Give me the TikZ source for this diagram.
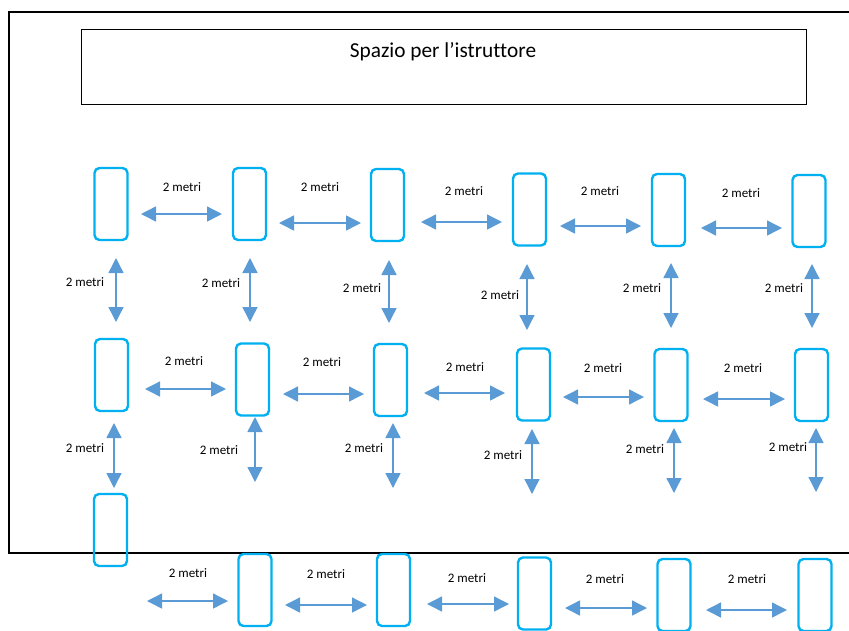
\documentclass[tikz,border=0pt]{standalone}
\usepackage{fontspec}
\setmainfont[Ligatures=NoCommon]{Carlito}
\usetikzlibrary{arrows.meta}
\definecolor{deskc}{HTML}{00B0F0}
\definecolor{arrc}{HTML}{5B9BD5}
\tikzset{
  desk/.style={draw=deskc, line width=2.4pt, rounded corners=5pt, minimum width=33pt, minimum height=72pt, inner sep=0pt},
  arr/.style={draw=arrc, line width=1.4pt, {Triangle[length=15pt,width=15pt]}-{Triangle[length=15pt,width=15pt]}},
  lab/.style={font=\fontsize{13}{15}\selectfont, inner sep=0pt}
}
\begin{document}
\begin{tikzpicture}[x=1pt,y=-1pt]
\useasboundingbox (0,0) rectangle (849,630);
% outer room frame
\draw[line width=2.5pt] (880,12) -- (9,12) -- (9,553) -- (880,553);
% instructor box
\node[draw, line width=1pt, minimum width=725pt, minimum height=75pt, inner sep=0pt] (istr) at (443.5,66.5) {};
\node[font=\fontsize{21.3}{25}\selectfont] (istrt) at (443,52) {Spazio per l’istruttore};
% desks
\foreach \n/\x/\y in {a1/111/204, a2/249.5/204, a3/387.5/205, a4/529.5/209.5, a5/668.5/210, a6/809/211,
  b1/111.5/375, b2/252.5/379.5, b3/390.5/380, b4/533.5/384.5, b5/671/385, b6/811.5/385,
  c1/110.5/530, c2/255/590, c3/393.5/590, c4/534.5/593.5, c5/674/595, c6/815/595}
  \node[desk] (\n) at (\x,\y) {};
% horizontal arrows
\foreach \n/\xa/\xb/\y/\lx/\ly in {
  ha1/141/222/214/182/187, ha2/279/361/223/320/187, ha3/421/502/222/464/191, ha4/560/641/226/600/191, ha5/701/782/228/741/193,
  hb1/145/226/389/184/361, hb2/283/364/394/322/362, hb3/424/505/393/465/367, hb4/563/644/397/603/368, hb5/703/785/399/743/368,
  hc1/147/228/601/188/573, hc2/285/367/605/326/574, hc3/427/509/604/467/578, hc4/565/647/608/605/579, hc5/706/787/610/747/579}
{
  \coordinate (\n s) at (\xa,\y);
  \coordinate (\n e) at (\xb,\y);
  \draw[arr] (\n s) -- (\n e);
  \node[lab] (\n l) at (\lx,\ly) {2 metri};
}
% vertical arrows
\foreach \n/\x/\ya/\yb/\lx/\ly in {
  va1/116/258/322/85/282, va2/250/258/322/221/283, va3/389/260/323/362/288, va4/527/264/330/500/295, va5/671/263/328/642/288, va6/812/264/328/784/288,
  vb1/114/423/488/85/448, vb2/255/417/482/219/450, vb3/393/423/488/364/448, vb4/532/429/494/503/455, vb5/674/428/493/645/449, vb6/816/428/492/788/447}
{
  \coordinate (\n s) at (\x,\ya);
  \coordinate (\n e) at (\x,\yb);
  \draw[arr] (\n s) -- (\n e);
  \node[lab] (\n l) at (\lx,\ly) {2 metri};
}
\end{tikzpicture}
\end{document}
